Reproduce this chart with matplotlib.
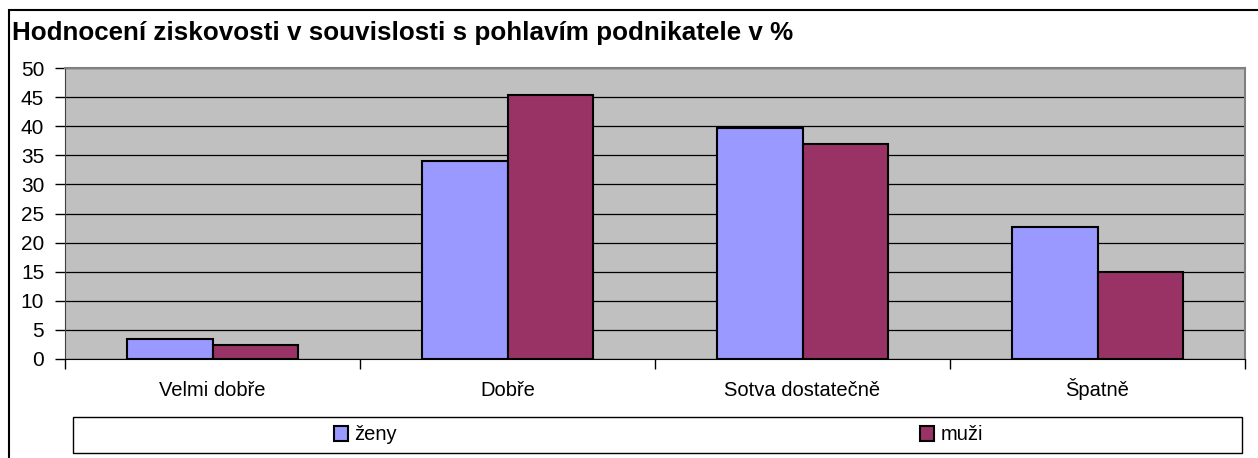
import matplotlib
matplotlib.use('Agg')
import matplotlib.pyplot as plt
import numpy as np
from matplotlib.patches import Rectangle

# data
categories = ['Velmi dobře', 'Dobře', 'Sotva dostatečně', 'Špatně']
zeny = [3.4, 34.1, 39.7, 22.6]
muzi = [2.4, 45.4, 37.0, 15.0]
series_names = ['ženy', 'muži']
yticks = list(range(0, 51, 5))

plt.rcParams['font.family'] = ['Liberation Sans', 'DejaVu Sans']

W, H = 1258, 458
fig = plt.figure(figsize=(W / 100, H / 100), dpi=100)

# outer chart border (left and top visible, rest runs off the image)
fig.patches.append(Rectangle((9 / W, -0.1), 1.0, 1.1 - 10 / H, transform=fig.transFigure,
                             fill=False, edgecolor='black', linewidth=1.5))

fig.text(12 / W, 1 - 40 / H, 'Hodnocení ziskovosti v souvislosti s pohlavím podnikatele v %',
         fontsize=18.7, fontweight='bold', va='baseline', ha='left')

ax = fig.add_axes([65 / W, 1 - 359 / H, (1245 - 65) / W, (359 - 68) / H])
ax.set_facecolor('#c0c0c0')

x = np.arange(len(categories))
bw = 0.29
b1 = ax.bar(x - bw / 2, zeny, bw, color='#9999ff', edgecolor='black', linewidth=1.5,
            label=series_names[0], zorder=3)
b2 = ax.bar(x + bw / 2, muzi, bw, color='#993366', edgecolor='black', linewidth=1.5,
            label=series_names[1], zorder=3)

ax.set_xlim(-0.5, len(categories) - 0.5)
ax.set_ylim(0, 50)
ax.set_yticks(yticks)
ax.yaxis.grid(True, color='black', linewidth=0.9)
ax.set_axisbelow(True)

ax.set_xticks(x)
ax.set_xticklabels(categories, fontsize=14.5)
for lab in ax.get_xticklabels():
    lab.set_verticalalignment('baseline')  # keep Š on the same baseline
ax.set_xticks(np.arange(-0.5, len(categories)), minor=True)
ax.tick_params(axis='x', which='major', length=0, pad=27)
ax.tick_params(axis='x', which='minor', length=7, direction='out', color='black', width=1)
ax.tick_params(axis='y', length=7, direction='out', pad=8, labelsize=15, width=1)

for s in ['top', 'right']:
    ax.spines[s].set_color('#808080')
    ax.spines[s].set_linewidth(1.5)
ax.spines['left'].set_color('#404040')
ax.spines['bottom'].set_color('black')

# legend box spanning the width
fig.patches.append(Rectangle((73 / W, 1 - 453 / H), (1242 - 73) / W, 36 / H, transform=fig.transFigure,
                             facecolor='white', edgecolor='black', linewidth=1))
fig.legend(handles=[b1, b2], ncol=2, loc='center left', bbox_to_anchor=(334 / W, 1 - 435 / H),
           frameon=False, fontsize=14.5, handlelength=0.7, handleheight=0.7, handletextpad=0.3,
           columnspacing=26, borderpad=0, borderaxespad=0)

fig.savefig('out.png', dpi=100)
